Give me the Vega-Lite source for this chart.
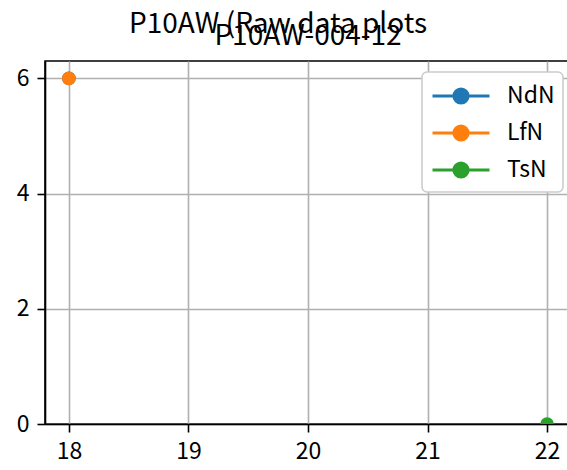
{
  "$schema": "https://vega.github.io/schema/vega-lite/v6.json",
  "padding": {"left": 15, "top": 11, "right": 0, "bottom": 0},
  "background": "white",
  "title": {
    "text": "P10AW (Raw data plots",
    "anchor": "middle",
    "frame": "group",
    "font": "Noto Sans CJK JP",
    "fontSize": 28,
    "fontWeight": "normal",
    "color": "black",
    "baseline": "alphabetic",
    "offset": -39,
    "dx": -30
  },
  "config": {
    "font": "Noto Sans CJK JP",
    "view": {"stroke": "black", "strokeWidth": 1.6},
    "legend": {"strokeWidth": 1.6},
    "axis": {
      "domainColor": "black",
      "domainWidth": 1.6,
      "tickColor": "black",
      "tickWidth": 1.6,
      "tickSize": 8,
      "labelFont": "Noto Sans CJK JP",
      "labelFontSize": 23,
      "labelColor": "black",
      "labelPadding": 8,
      "gridColor": "#b0b0b0",
      "gridWidth": 1.6,
      "gridOpacity": 1,
      "title": null
    }
  },
  "vconcat": [
    {
      "width": 526,
      "height": 363,
      "title": {
        "text": "P10AW-004-12",
        "anchor": "middle",
        "frame": "group",
        "font": "Noto Sans CJK JP",
        "fontSize": 28,
        "fontWeight": "normal",
        "color": "black",
        "baseline": "alphabetic",
        "offset": -12
      },
      "data": {
        "values": [
          {"x": 18, "y": 6, "series": "NdN"},
          {"x": 18, "y": 6, "series": "LfN"},
          {"x": 22, "y": 0, "series": "TsN"}
        ]
      },
      "mark": {"type": "point", "filled": true, "opacity": 1, "size": 150, "strokeWidth": 1.5, "clip": true},
      "encoding": {
        "x": {
          "field": "x",
          "type": "quantitative",
          "scale": {"domain": [17.8, 22.2], "nice": false, "zero": false},
          "axis": {"values": [18, 19, 20, 21, 22], "format": "d", "labelFlush": false}
        },
        "y": {
          "field": "y",
          "type": "quantitative",
          "scale": {"domain": [0, 6.3], "nice": false},
          "axis": {"values": [0, 2, 4, 6], "format": "d", "labelFlush": false}
        },
        "stroke": {
          "field": "series",
          "type": "nominal",
          "scale": {"domain": ["NdN", "LfN", "TsN"], "range": ["#1f77b4", "#ff7f0e", "#2ca02c"]},
          "legend": null
        },
        "color": {
          "field": "series",
          "type": "nominal",
          "scale": {"domain": ["NdN", "LfN", "TsN"], "range": ["#1f77b4", "#ff7f0e", "#2ca02c"]},
          "legend": {
            "title": null,
            "orient": "none",
            "legendX": 377,
            "legendY": 11,
            "padding": 8,
            "fillColor": "white",
            "strokeColor": "#cccccc",
            "cornerRadius": 5,
            "symbolType": "M-2,0H2M0.5,0A0.5,0.5,0,1,1,-0.5,0A0.5,0.5,0,1,1,0.5,0",
            "symbolSize": 812,
            "symbolStrokeWidth": 3,
            "symbolOffset": 15,
            "labelOffset": 30,
            "labelFont": "Noto Sans CJK JP",
            "labelFontSize": 23,
            "labelColor": "black",
            "rowPadding": 7,
            "encode": {
              "symbols": {
                "update": {
                  "shape": {"value": "M-2,0H2M0.5,0A0.5,0.5,0,1,1,-0.5,0A0.5,0.5,0,1,1,0.5,0"},
                  "size": {"value": 812},
                  "stroke": {"scale": "stroke", "field": "value"},
                  "strokeWidth": {"value": 3},
                  "opacity": {"value": 1}
                }
              }
            }
          }
        },
        "order": {"field": "series", "sort": "descending"}
      }
    }
  ]
}
